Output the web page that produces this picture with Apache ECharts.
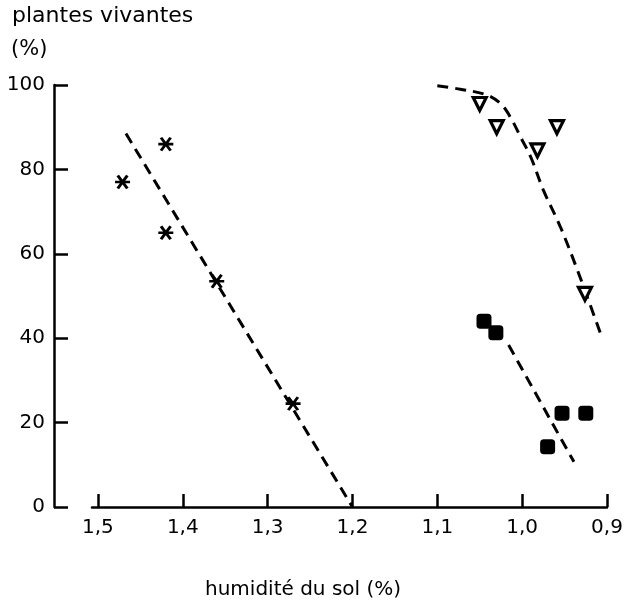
<!DOCTYPE html>
<html>
<head>
<meta charset="utf-8">
<style>
  html, body { margin: 0; padding: 0; background: #fff; }
  #chart { width: 626px; height: 606px; }
</style>
<script src="https://cdn.jsdelivr.net/npm/echarts@6/dist/echarts.min.js"></script>
</head>
<body>
<div id="chart"></div>
<script>
// Soil moisture (%) on the x axis, surviving plants (%) on the y axis.
const xTicks = [0.9, 1.0, 1.1, 1.2, 1.3, 1.4, 1.5];
const yTicks = [0, 20, 40, 60, 80, 100];

// Observations (moisture, survival)
const asteriskPts = [[1.471, 77], [1.42, 86], [1.42, 65], [1.36, 53.5], [1.27, 24.5]];
const trianglePts = [[1.05, 95.5], [1.03, 90], [0.982, 84.5], [0.959, 90], [0.926, 50.5]];
const squarePts = [[1.045, 44], [1.031, 41.3], [0.97, 14.3], [0.953, 22.2], [0.925, 22.2]];

// Fitted trend lines
const asteriskFit = [[1.467, 88.5], [1.2, 0]];
const triangleFit = [[1.10, 99.8], [1.073, 99], [1.041, 97.6], [1.024, 95.3], [1.012, 91.7],
                     [1.002, 87.7], [0.99, 83], [0.975, 75.1], [0.955, 66.4], [0.935, 56.2], [0.908, 41.3]];
const squareFit = [[1.016, 38.4], [0.939, 10.7]];

const FONT = '"DejaVu Sans", sans-serif';
const INK = '#000';
const dash = { color: INK, width: 3, type: [11, 7] };

const chart = echarts.init(document.getElementById('chart'), null, { renderer: 'canvas' });

chart.setOption({
  animation: false,
  backgroundColor: '#fff',
  grid: { left: 92, right: 19, top: 85, bottom: 99, containLabel: false },
  graphic: [
    { type: 'text', left: 12, top: 5,
      style: { text: 'plantes vivantes', font: '22px ' + FONT, fill: INK } },
    { type: 'text', left: 11, top: 39,
      style: { text: '(%)', font: '21px ' + FONT, fill: INK } },
    { type: 'text', left: 205, top: 580,
      style: { text: 'humidité du sol (%)', font: '20px ' + FONT, fill: INK } }
  ],
  xAxis: {
    type: 'value',
    inverse: true,
    min: 0.9,
    max: 1.507,
    splitLine: { show: false },
    axisLine: { show: true, onZero: false, lineStyle: { color: INK, width: 2.5 } },
    axisTick: { show: true, inside: true, length: 13, customValues: xTicks,
                lineStyle: { color: INK, width: 2.5 } },
    axisLabel: { show: true, customValues: xTicks, margin: 11, color: INK,
                 fontFamily: FONT, fontSize: 20,
                 formatter: v => v.toFixed(1).replace('.', ',') }
  },
  yAxis: {
    type: 'value',
    min: 0,
    max: 100,
    interval: 20,
    offset: 38,
    splitLine: { show: false },
    axisLine: { show: true, lineStyle: { color: INK, width: 2.5 } },
    axisTick: { show: true, inside: true, length: 14, customValues: yTicks,
                lineStyle: { color: INK, width: 2.5 } },
    axisLabel: { show: true, customValues: yTicks, margin: 9, color: INK,
                 fontFamily: FONT, fontSize: 20 }
  },
  series: [
    { type: 'line', data: asteriskFit, showSymbol: false, lineStyle: dash, z: 2 },
    { type: 'line', data: triangleFit, showSymbol: false, smooth: 0.35, lineStyle: dash, z: 2 },
    { type: 'line', data: squareFit, showSymbol: false, lineStyle: dash, z: 2 },
    {
      type: 'scatter', data: asteriskPts, z: 3,
      symbol: 'path://M0,5 L10,5 M1.8,1.2 L8.2,8.8 M1.8,8.8 L8.2,1.2',
      symbolSize: [15, 13],
      itemStyle: { color: 'none', borderColor: INK, borderWidth: 2.8, opacity: 1 }
    },
    {
      type: 'scatter', data: trianglePts, z: 3,
      symbol: 'triangle', symbolRotate: 180, symbolSize: 13,
      itemStyle: { color: '#fff', borderColor: INK, borderWidth: 3.2, opacity: 1 }
    },
    {
      type: 'scatter', data: squarePts, z: 3,
      symbol: 'roundRect', symbolSize: 15,
      itemStyle: { color: INK, opacity: 1 }
    }
  ]
});
</script>
</body>
</html>
